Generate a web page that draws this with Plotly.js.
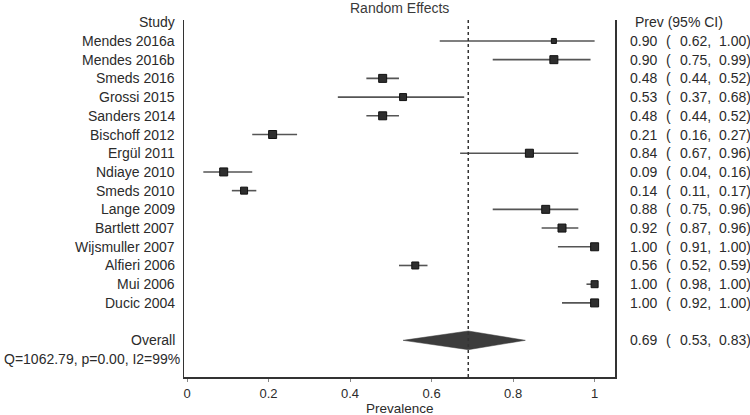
<!DOCTYPE html>
<html>
<head>
<meta charset="utf-8">
<script src="https://cdn.plot.ly/plotly-3.0.1.min.js"></script>
<style>html,body{margin:0;padding:0;background:#fff;}#chart{width:750px;height:415px;}</style>
</head>
<body>
<div id="chart"></div>
<script>
const studies = ["Mendes 2016a","Mendes 2016b","Smeds 2016","Grossi 2015","Sanders 2014","Bischoff 2012","Ergül 2011","Ndiaye 2010","Smeds 2010","Lange 2009","Bartlett 2007","Wijsmuller 2007","Alfieri 2006","Mui 2006","Ducic 2004"];
const prev  = [0.90,0.90,0.48,0.53,0.48,0.21,0.84,0.09,0.14,0.88,0.92,1.00,0.56,1.00,1.00];
const lower = [0.62,0.75,0.44,0.37,0.44,0.16,0.67,0.04,0.11,0.75,0.87,0.91,0.52,0.98,0.92];
const upper = [1.00,0.99,0.52,0.68,0.52,0.27,0.96,0.16,0.17,0.96,0.96,1.00,0.59,1.00,1.00];
const weights = [5,8,8,7,8,8,8,8,7,8,8,8,7,7,8];
const overall = {label:"Overall", est:0.69, lo:0.53, hi:0.83};
const hetText = "Q=1062.79, p=0.00, I2=99%";
const tickVals = [0,0.2,0.4,0.6,0.8,1];
const tickText = ["0","0.2","0.4","0.6","0.8","1"];

const FONT = "Liberation Sans, Arial, sans-serif";
const TXT = "#2b2b2b";
const rows = studies.map((s,i)=>i+1);
const overallRow = studies.length + 2;
const hetRow = overallRow + 1;

// CI lines
const lx=[], ly=[];
rows.forEach((r,i)=>{ lx.push(lower[i],upper[i],null); ly.push(r,r,null); });

const traces = [
  {type:"scatter",mode:"lines",x:lx,y:ly,line:{color:"#555",width:1.6},hoverinfo:"skip",showlegend:false},
  {type:"scatter",mode:"markers",x:prev,y:rows,marker:{symbol:"square",size:weights,color:"#2e2e2e",opacity:1,line:{color:"#111",width:1}},showlegend:false},
  {type:"scatter",mode:"lines",fill:"toself",fillcolor:"#3c3c3c",
   x:[overall.lo,overall.est,overall.hi,overall.est,overall.lo],
   y:[overallRow,overallRow-0.5,overallRow,overallRow+0.5,overallRow],
   line:{color:"#3c3c3c",width:0.5},showlegend:false,hoverinfo:"skip"}
];

const L = 184, R = 615, B = 377, T = 20;
const px = p => (p - L)/(R - L);
const py = p => (B - p)/(B - T);
const ann = [];
const mk = (text,x,y,anchor,extra)=>Object.assign({text:text,x:x,y:y,xref:"paper",yref:"y",xanchor:anchor,yanchor:"middle",showarrow:false,font:{family:FONT,size:14,color:TXT}},extra||{});
ann.push(mk("Study",px(177),0,"right"));
studies.forEach((s,i)=>ann.push(mk(s,px(177),rows[i],"right")));
ann.push(mk(overall.label,px(177),overallRow,"right"));
ann.push(mk(hetText,px(182),hetRow,"right"));
ann.push(mk("Prev (95% CI)",px(633),0,"left"));
const f2 = v=>v.toFixed(2);
const addRow = (p,lo,hi,r)=>{
  ann.push(mk(f2(p),px(628),r,"left"));
  ann.push(mk("(",px(664),r,"left"));
  ann.push(mk(f2(lo)+",",px(678),r,"left"));
  ann.push(mk(f2(hi)+")",px(717),r,"left"));
};
studies.forEach((s,i)=>addRow(prev[i],lower[i],upper[i],rows[i]));
addRow(overall.est,overall.lo,overall.hi,overallRow);
ann.push({text:"Random Effects",x:0.5,y:py(8),xref:"paper",yref:"paper",xanchor:"center",yanchor:"middle",showarrow:false,font:{family:FONT,size:14,color:"#3a3a3a"}});
ann.push({text:"Prevalence",x:0.5,y:py(409),xref:"paper",yref:"paper",xanchor:"center",yanchor:"middle",showarrow:false,font:{family:FONT,size:13.5,color:TXT}});

const layout = {
  width:750,height:415,
  margin:{l:L,r:750-R,t:T,b:415-B,pad:0},
  paper_bgcolor:"#fff",plot_bgcolor:"#fff",
  font:{family:FONT,size:14,color:TXT},
  showlegend:false,
  xaxis:{range:[-0.0074,1.05],tickvals:tickVals,ticktext:tickText,ticks:"outside",ticklen:3,tickcolor:"#888",
    ticklabelstandoff:1,
    showgrid:false,zeroline:false,showline:true,linecolor:"#333",linewidth:1.5,
    tickfont:{family:FONT,size:13,color:TXT}},
  yaxis:{range:[18.96,-0.12],showticklabels:false,ticks:"",showgrid:false,zeroline:false,
    showline:true,mirror:true,linecolor:"#333",linewidth:1.5},
  shapes:[{type:"line",xref:"x",yref:"paper",x0:overall.est,x1:overall.est,y0:0,y1:1,
    line:{color:"#333",width:1.5,dash:"3px,3px"}}],
  annotations:ann
};
Plotly.newPlot("chart",traces,layout,{staticPlot:true});
</script>
</body>
</html>
